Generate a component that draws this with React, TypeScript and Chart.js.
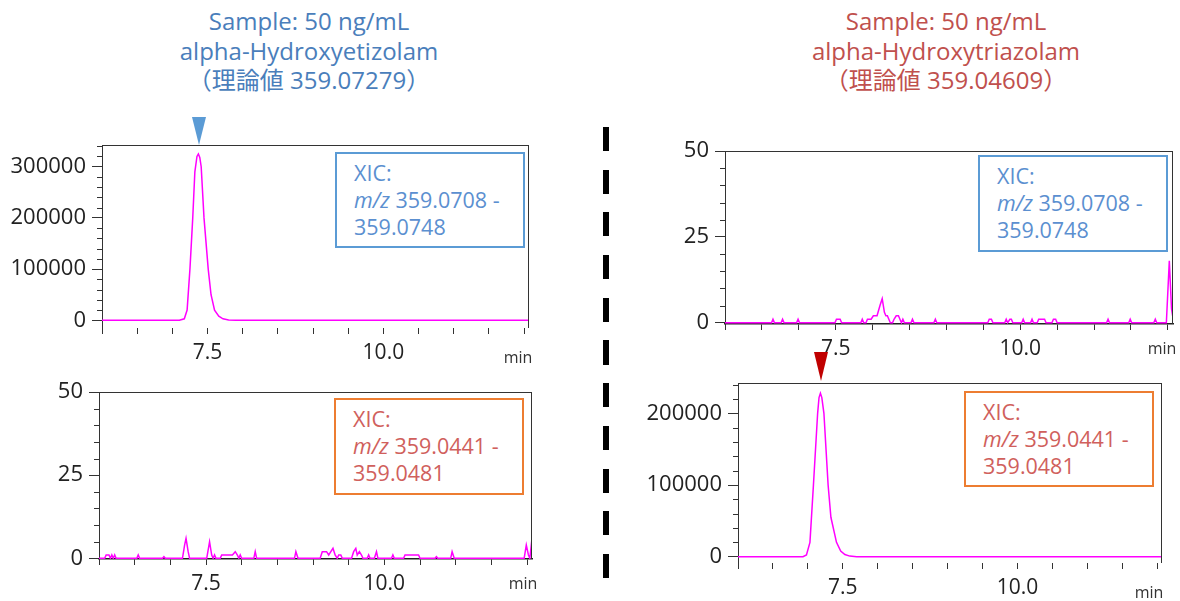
import React, { useEffect, useRef } from "react";
import { Chart, registerables } from "chart.js";

Chart.register(...registerables);

// ---------- data ----------
const X_TICKS = [6.0, 6.5, 7.0, 7.5, 8.0, 8.5, 9.0, 9.5, 10.0, 10.5, 11.0, 11.5, 12.0];
const X_LABELED = [7.5, 10.0];

// top-left: alpha-Hydroxyetizolam, XIC 359.0708-359.0748
const TL_TIME = [6.0, 7.10, 7.17, 7.21, 7.25, 7.29, 7.32, 7.35, 7.37, 7.39, 7.41, 7.45, 7.51, 7.55, 7.60, 7.66, 7.72, 7.80, 7.90, 12.1];
const TL_INT = [0, 0, 3000, 20000, 100000, 200000, 290000, 320000, 325000, 318000, 300000, 200000, 100000, 50000, 20000, 8000, 3000, 800, 0, 0];
const TL_Y_MAJOR = [0, 100000, 200000, 300000];
const TL_Y_MINOR = [20000, 40000, 60000, 80000, 120000, 140000, 160000, 180000, 220000, 240000, 260000, 280000, 320000, 340000];

// bottom-left: alpha-Hydroxyetizolam sample, XIC 359.0441-359.0481
const BL_TIME = [6.0, 6.08, 6.10, 6.14, 6.16, 6.18, 6.20, 6.22, 6.24, 6.53, 6.55, 6.57, 6.89, 6.91, 6.93, 7.17, 7.20, 7.22, 7.25, 7.27, 7.51, 7.55, 7.58, 7.60, 7.62, 7.64, 7.70, 7.72, 7.87, 7.91, 7.94, 7.96, 7.98, 8.00, 8.17, 8.19, 8.21, 8.74, 8.76, 8.79, 9.10, 9.13, 9.19, 9.22, 9.25, 9.28, 9.31, 9.34, 9.36, 9.39, 9.41, 9.54, 9.57, 9.60, 9.62, 9.65, 9.68, 9.70, 9.76, 9.78, 9.80, 9.86, 9.89, 9.91, 10.10, 10.12, 10.14, 10.27, 10.29, 10.48, 10.50, 10.71, 10.73, 10.75, 10.93, 10.95, 10.98, 11.96, 11.99, 12.02, 12.04, 12.07, 12.1];
const BL_INT = [0, 0, 1, 1, 0, 1, 0, 1, 0, 0, 1, 0, 0, 0.5, 0, 0, 4, 6, 2, 0, 0, 5, 1, 0, 1, 0, 0, 1, 1, 2, 1, 0, 1, 0, 0, 2, 0, 0, 2, 0, 0, 2, 2, 1, 2, 3, 1, 0, 1, 1, 0, 0, 2, 3, 1, 2, 1, 0, 0, 1, 0, 0, 2, 0, 0, 1, 0, 0, 1, 1, 0, 0, 0.5, 0, 0, 2, 0, 0, 4, 1, 0, 6, 7];
const SMALL_Y_MAJOR = [0, 25, 50];
const SMALL_Y_MINOR = [5, 10, 15, 20, 30, 35, 40, 45];

// top-right: alpha-Hydroxytriazolam sample, XIC 359.0708-359.0748
const TR_TIME = [6.0, 6.63, 6.65, 6.67, 6.76, 6.78, 6.80, 6.97, 6.99, 7.01, 7.49, 7.51, 7.56, 7.58, 7.84, 7.86, 7.88, 7.91, 7.93, 7.98, 8.01, 8.06, 8.10, 8.13, 8.16, 8.18, 8.20, 8.22, 8.24, 8.27, 8.29, 8.32, 8.35, 8.37, 8.39, 8.41, 8.43, 8.52, 8.54, 8.56, 8.83, 8.85, 8.87, 9.56, 9.58, 9.61, 9.63, 9.79, 9.81, 9.83, 9.86, 9.88, 9.90, 10.02, 10.04, 10.06, 10.14, 10.16, 10.18, 10.23, 10.25, 10.33, 10.35, 10.43, 10.45, 10.48, 10.50, 11.17, 11.19, 11.21, 11.47, 11.49, 11.51, 11.81, 11.83, 11.85, 11.98, 12.02, 12.05, 12.08];
const TR_INT = [0, 0, 1, 0, 0, 1, 0, 0, 1, 0, 0, 1, 1, 0, 0, 1, 0, 0, 1, 1, 2, 2, 5, 7, 3, 2, 2, 1, 0, 0, 1, 2, 2, 1, 0, 1, 0, 0, 1, 0, 0, 1, 0, 0, 1, 1, 0, 0, 1, 0, 1, 1, 0, 0, 1, 0, 0, 1, 0, 0, 1, 1, 0, 0, 1, 1, 0, 0, 1, 0, 0, 1, 0, 0, 1, 0, 0, 18, 4, 0];

// bottom-right: alpha-Hydroxytriazolam, XIC 359.0441-359.0481
const BR_TIME = [6.0, 6.93, 6.98, 7.03, 7.08, 7.14, 7.16, 7.18, 7.20, 7.23, 7.29, 7.33, 7.41, 7.47, 7.53, 7.60, 7.70, 12.1];
const BR_INT = [0, 0, 2500, 20000, 100000, 200000, 222000, 228000, 222000, 200000, 100000, 55000, 20000, 8000, 3000, 800, 0, 0];
const BR_Y_MAJOR = [0, 100000, 200000];
const BR_Y_MINOR = [20000, 40000, 60000, 80000, 120000, 140000, 160000, 180000, 220000, 240000];

// ---------- drawing ----------
const FONT = "'Open Sans', 'Noto Sans CJK JP', sans-serif";
const AXIS = "#333";
const Y_W = 100;
const X_H = 40;
const PAD_T = 26;
const PAD_R = 12;

const framePlugin = {
  id: "frame",
  afterDraw(chart: any, _args: any, opts: any) {
    const { ctx, chartArea: a, scales } = chart;
    ctx.save();
    ctx.strokeStyle = AXIS;
    ctx.lineWidth = 1;
    ctx.beginPath();
    ctx.moveTo(a.left, a.top + 0.5);
    ctx.lineTo(a.right, a.top + 0.5);
    ctx.moveTo(a.right - 0.5, a.top);
    ctx.lineTo(a.right - 0.5, a.bottom);
    const y = scales.y;
    for (const v of opts.minor || []) {
      const py = Math.round(y.getPixelForValue(v)) + 0.5;
      ctx.moveTo(a.left - 5, py);
      ctx.lineTo(a.left, py);
    }
    ctx.stroke();
    ctx.restore();
  },
};

type PanelProps = {
  pl: number; pr: number; pt: number; pb: number;
  time: number[]; values: number[];
  yMin: number; yMax: number; yMajor: number[]; yMinor: number[];
  xMax: number; xBorder: boolean;
};

function Panel(p: PanelProps) {
  const ref = useRef<HTMLCanvasElement | null>(null);
  const w = p.pr - p.pl + Y_W + PAD_R;
  const h = p.pb - p.pt + PAD_T + X_H;
  useEffect(() => {
    if (!ref.current) return;
    const chart = new Chart(ref.current, {
      type: "line",
      data: {
        datasets: [
          {
            data: p.time.map((t, i) => ({ x: t, y: p.values[i] })),
            borderColor: "#ff00ff",
            borderWidth: 1.5,
            pointRadius: 0,
            tension: 0,
            fill: false,
          },
        ],
      },
      options: {
        responsive: false,
        animation: false,
        events: [],
        layout: { padding: { top: PAD_T, right: PAD_R, left: 0, bottom: 0 } },
        plugins: {
          legend: { display: false },
          tooltip: { enabled: false },
          frame: { minor: p.yMinor },
        } as any,
        scales: {
          x: {
            type: "linear",
            min: 6.0,
            max: p.xMax,
            afterBuildTicks: (s: any) => {
              s.ticks = X_TICKS.map((v) => ({ value: v }));
            },
            afterFit: (s: any) => {
              s.height = X_H;
            },
            ticks: {
              autoSkip: false,
              maxRotation: 0,
              padding: 6,
              color: "#222",
              font: { family: FONT, size: 21 },
              callback: (v: any) => (X_LABELED.includes(Number(v)) ? Number(v).toFixed(1) : ""),
            },
            grid: { drawOnChartArea: false, drawTicks: true, tickLength: 6, color: AXIS },
            border: { display: p.xBorder, color: "#222", width: 1.5 },
          },
          y: {
            type: "linear",
            min: p.yMin,
            max: p.yMax,
            afterBuildTicks: (s: any) => {
              s.ticks = p.yMajor.map((v) => ({ value: v }));
            },
            afterFit: (s: any) => {
              s.width = Y_W;
            },
            ticks: {
              autoSkip: false,
              padding: 6,
              color: "#222",
              font: { family: FONT, size: 22 },
              callback: (v: any) => String(v),
            },
            grid: { drawOnChartArea: false, drawTicks: true, tickLength: 10, color: AXIS },
            border: { display: true, color: AXIS, width: 1 },
          },
        },
      },
      plugins: [framePlugin as any],
    });
    return () => chart.destroy();
  }, []);
  return (
    <canvas
      ref={ref}
      width={w}
      height={h}
      style={{ position: "absolute", left: p.pl - Y_W, top: p.pt - PAD_T, width: w, height: h }}
    />
  );
}

function XicBox(props: { left: number; top: number; w: number; h: number; border: string; color: string; lines: [string, string, string] }) {
  const { left, top, w, h, border, color, lines } = props;
  return (
    <div
      style={{
        position: "absolute", left, top, width: w, height: h, boxSizing: "border-box",
        border: `2px solid ${border}`, background: "#fff", color, fontFamily: FONT,
        fontSize: 21.5, lineHeight: "27px", paddingTop: 5, paddingLeft: 17, whiteSpace: "nowrap",
      }}
    >
      <div>{lines[0]}</div>
      <div><i>m/z</i> {lines[1]}</div>
      <div>{lines[2]}</div>
    </div>
  );
}

function Title(props: { cx: number; color: string; lines: string[] }) {
  return (
    <div
      style={{
        position: "absolute", left: props.cx - 220, top: 6, width: 440, textAlign: "center",
        color: props.color, fontFamily: FONT, fontSize: 24, lineHeight: "29.5px",
      }}
    >
      {props.lines.map((l, i) => (<div key={i}>{l}</div>))}
    </div>
  );
}

function MinLabel(props: { cx: number; cy: number }) {
  return (
    <div
      style={{
        position: "absolute", left: props.cx - 20, top: props.cy - 11, width: 40, textAlign: "center",
        fontFamily: FONT, fontSize: 16, lineHeight: "22px", color: "#333",
      }}
    >
      min
    </div>
  );
}

export default function App() {
  const BLUE_T = "#4a7ebb";
  const RED_T = "#c0504d";
  return (
    <div style={{ position: "fixed", left: 0, top: 0, width: 1180, height: 601, background: "#fff", overflow: "hidden" }}>
      <Title cx={309} color={BLUE_T} lines={["Sample: 50 ng/mL", "alpha-Hydroxyetizolam", "（理論値 359.07279）"]} />
      <Title cx={946} color={RED_T} lines={["Sample: 50 ng/mL", "alpha-Hydroxytriazolam", "（理論値 359.04609）"]} />

      <Panel pl={102} pr={529} pt={145} pb={328} time={TL_TIME} values={TL_INT} yMin={-15000} yMax={342400} yMajor={TL_Y_MAJOR} yMinor={TL_Y_MINOR} xMax={12.07} xBorder={false} />
      <Panel pl={99} pr={532} pt={392} pb={559} time={BL_TIME} values={BL_INT} yMin={-0.2} yMax={50} yMajor={SMALL_Y_MAJOR} yMinor={SMALL_Y_MINOR} xMax={12.07} xBorder={true} />
      <Panel pl={725} pr={1173} pt={151} pb={324} time={TR_TIME} values={TR_INT} yMin={-0.38} yMax={50} yMajor={SMALL_Y_MAJOR} yMinor={SMALL_Y_MINOR} xMax={12.07} xBorder={true} />
      <Panel pl={738} pr={1162} pt={383} pb={563} time={BR_TIME} values={BR_INT} yMin={-8800} yMax={242300} yMajor={BR_Y_MAJOR} yMinor={BR_Y_MINOR} xMax={12.07} xBorder={false} />

      <XicBox left={335} top={152} w={190} h={96} border="#5b9bd5" color="#5b8fd0" lines={["XIC:", "359.0708 -", "359.0748"]} />
      <XicBox left={334} top={398} w={190} h={97} border="#ed7d31" color="#d0605c" lines={["XIC:", "359.0441 -", "359.0481"]} />
      <XicBox left={978} top={155} w={190} h={97} border="#5b9bd5" color="#5b8fd0" lines={["XIC:", "359.0708 -", "359.0748"]} />
      <XicBox left={964} top={391} w={190} h={96} border="#ed7d31" color="#d0605c" lines={["XIC:", "359.0441 -", "359.0481"]} />

      <MinLabel cx={518} cy={357} />
      <MinLabel cx={523} cy={583} />
      <MinLabel cx={1162} cy={348} />
      <MinLabel cx={1149} cy={592} />

      <div style={{ position: "absolute", left: 192, top: 117, width: 0, height: 0, borderLeft: "7px solid transparent", borderRight: "7px solid transparent", borderTop: "28px solid #5b9bd5" }} />
      <div style={{ position: "absolute", left: 814, top: 352, width: 0, height: 0, borderLeft: "7.5px solid transparent", borderRight: "7.5px solid transparent", borderTop: "29px solid #c00000" }} />

      <div style={{ position: "absolute", left: 603, top: 127, width: 6, height: 451, background: "repeating-linear-gradient(to bottom, #000 0px, #000 24px, transparent 24px, transparent 42.7px)" }} />
    </div>
  );
}
